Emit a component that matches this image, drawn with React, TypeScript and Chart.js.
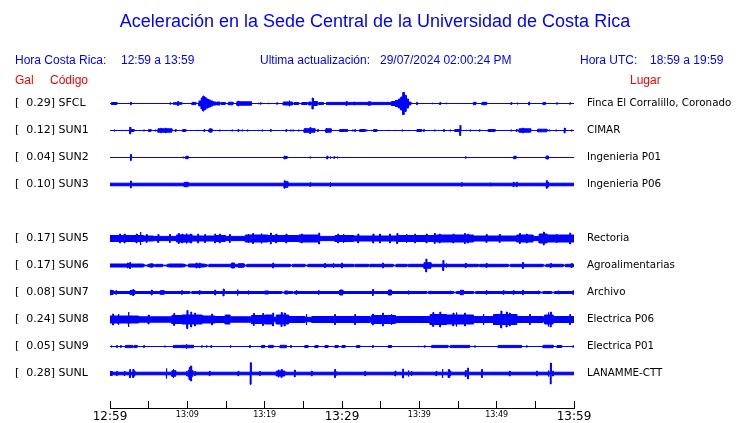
import React, { useEffect, useRef } from 'react';
import { Chart, registerables } from 'chart.js';

Chart.register(...registerables);

// ---------- texts ----------
const TITLE = 'Aceleración en la Sede Central de la Universidad de Costa Rica';
const LOCAL_TIME_LABEL = 'Hora Costa Rica:';
const LOCAL_TIME_RANGE = '12:59 a 13:59';
const UPDATE_LABEL = 'Ultima actualización:';
const UPDATE_TIME = '29/07/2024 02:00:24 PM';
const UTC_LABEL = 'Hora UTC:';
const UTC_RANGE = '18:59 a 19:59';
const HEAD_GAL = 'Gal';
const HEAD_CODE = 'Código';
const HEAD_PLACE = 'Lugar';

// ---------- stations ----------
const CODES = ['SFCL', 'SUN1', 'SUN2', 'SUN3', 'SUN4', 'SUN5', 'SUN6', 'SUN7', 'SUN8', 'SUN9', 'SUNL'];
const GAL = ['0.29', '0.12', '0.04', '0.10', null, '0.17', '0.17', '0.08', '0.24', '0.05', '0.28'];
const PLACES = ['Finca El Corralillo, Coronado', 'CIMAR', 'Ingenieria P01', 'Ingenieria P06', '',
  'Rectoria', 'Agroalimentarias', 'Archivo', 'Electrica P06', 'Electrica P01', 'LANAMME-CTT'];

// time axis (minutes after 12:59)
const MINUTE_TICKS = [0, 5, 10, 15, 20, 25, 30, 35, 40, 45, 50, 55, 60];
const TIME_TICK_LABELS = ['12:59', '', '13:09', '', '13:19', '', '13:29', '', '13:39', '', '13:49', '', '13:59'];
const MAJOR_TIME_TICKS = [0, 30, 60];

// vertical spacing between traces (trace units)
const ROW_GAP = 27;

// base half-thickness of each trace (trace units)
const BASE_AMP = [0.5, 0.5, 0.5, 1.8, null, 2.6, 1.7, 1.5, 2.7, 0.5, 1.8];

// events: [minute, halfAmp] spike or [startMinute, endMinute, halfAmp] burst
const SFCL_EVENTS = [
  [0.2, 0.9, 1.5], [2.7, 1.8], [7.8, 1.2], [8.2, 9.3, 1.3], [8.8, 2.5], [10.6, 11.1, 1.6],
  [11.5, 11.8, 3], [11.8, 12.0, 6], [12.0, 12.15, 8], [12.15, 12.4, 6.5], [12.4, 12.7, 5], [12.7, 13.0, 4],
  [13.0, 13.3, 3], [13.3, 13.7, 2], [13.8, 14.2, 2], [14.4, 14.9, 1.5], [15.3, 15.9, 1.8],
  [16.4, 18.3, 2.2], [16.6, 3], [19.2, 1.2], [19.5, 1.2], [20.5, 1.2], [21.6, 1.2],
  [22.4, 23.6, 2], [23.2, 3.3], [23.8, 24.4, 1.5], [24.8, 25.5, 1.5], [25.7, 26.0, 2], [26.2, 6],
  [26.3, 26.8, 2.5], [27.0, 27.6, 1.5], [28.0, 36.4, 1.6], [30.6, 2.5], [31.6, 2], [33.4, 33.7, 2.2],
  [36.4, 36.9, 2.5], [36.9, 37.3, 3.5], [37.3, 37.6, 5], [37.6, 37.85, 7], [37.85, 38.05, 11.5],
  [38.05, 38.3, 8.5], [38.3, 38.6, 5], [38.6, 38.9, 2],
  [39.7, 1.6], [41.7, 1.2], [42.7, 1.6], [43.5, 1.2], [47.0, 47.3, 1.7], [48.1, 48.7, 1.7],
  [51.9, 1.4], [52.7, 1.4], [54.2, 2], [56.0, 56.3, 1.6], [57.8, 1.2], [59.5, 1.2],
];
const SUN1_EVENTS = [
  [0.6, 1.1], [1.5, 1.1], [2.0, 1.1], [2.6, 3.8], [2.7, 3.1, 1.5], [3.1, 1.1], [4.4, 1.1], [5.0, 5.3, 1.4],
  [5.9, 1.1], [6.2, 8.0, 2.2], [6.6, 2.8], [7.2, 2.8], [8.5, 1.4], [9.4, 9.8, 1.5], [11.3, 1.1], [12.2, 1.4],
  [12.8, 13.2, 2], [13.0, 2.6], [14.2, 1.1], [15.8, 1.1], [16.6, 1.4], [17.1, 1.1], [17.8, 1.1], [19.2, 1.1],
  [19.7, 1.1], [20.8, 1.4], [22.8, 1.4], [23.4, 1.1], [23.7, 1.1], [24.4, 1.1], [25.1, 26.5, 2.3], [25.9, 3.5],
  [26.9, 1.4], [27.9, 28.6, 2.2], [28.0, 3], [29.7, 30.3, 1.5], [30.4, 30.7, 1.5], [31.4, 1.1], [31.7, 1.4],
  [32.3, 33.0, 1.5], [33.2, 1.1], [33.8, 1.1], [34.1, 34.5, 1.5], [36.0, 1.1], [36.8, 1.1], [37.8, 1.1],
  [38.6, 1.1], [39.7, 40.3, 1.5], [40.6, 1.4], [42.0, 1.1], [43.2, 1.4], [44.0, 1.1], [44.6, 45.3, 1.5],
  [45.3, 5.5], [46.1, 1.1], [46.6, 1.1], [47.0, 1.1], [47.4, 1.1], [47.8, 1.2], [48.9, 49.8, 1.5],
  [51.9, 1.1], [52.6, 1.4], [52.9, 54.4, 2.2], [53.4, 3], [55.3, 56.5, 1.8], [56.8, 1.1], [57.7, 1.1],
  [58.8, 3], [59.7, 1.1],
];
const SUN2_EVENTS = [
  [2.7, 3.5], [9.5, 1.3], [9.8, 10.1, 1.7], [22.5, 22.9, 1.5], [22.6, 2], [25.9, 1.1], [28.1, 2], [28.5, 1.5],
  [29.0, 1.3], [29.4, 1.1], [46.0, 1.2], [52.2, 52.5, 1.7], [56.4, 56.7, 2],
];
const SUN3_EVENTS = [
  [2.7, 4], [9.6, 10.1, 2.7], [22.5, 23.0, 3.3], [22.6, 4.2], [25.9, 2.3], [28.5, 3], [45.5, 2.3],
  [49.2, 2.3], [52.2, 2.8], [52.6, 2.8], [56.4, 56.7, 3], [56.5, 4.3],
];
const SUN5_EVENTS = [
  [0, 4.3, 3.5], [4.3, 5.6, 3], [8.6, 10.6, 4], [10.6, 13.6, 3], [13.6, 14.9, 3.5], [17.5, 20.4, 4],
  [20.4, 24.4, 3.5], [24.4, 27.0, 4], [29.1, 31.5, 3.5], [31.5, 37.1, 3], [37.3, 42.2, 3.5], [42.2, 47.0, 4],
  [47.0, 52.6, 3], [52.6, 54.7, 4], [55.5, 56.5, 5], [56.5, 60, 4],
  [1.3, 5], [1.9, 5], [3.45, 5], [3.95, 7], [4.75, 4.5], [6.25, 4.5], [7.75, 4.5], [8.9, 5.5], [9.35, 5],
  [9.9, 5.5], [10.45, 5], [11.4, 5], [12.3, 4.5], [13.6, 5], [14.2, 5], [15.5, 4.5], [17.9, 5], [18.5, 5.5],
  [19.6, 5.5], [20.8, 6], [21.5, 5], [22.8, 5], [24.8, 5], [27.05, 6], [29.5, 5], [30.2, 5], [32.1, 5],
  [34.05, 5], [34.9, 5], [36.2, 5], [37.15, 5.5], [38.35, 5], [39.45, 5], [40.95, 5], [42.0, 5.5],
  [42.65, 5], [44.4, 5], [45.9, 5.5], [46.3, 5], [48.7, 4.5], [50.4, 4.5], [53.0, 5.5], [53.9, 5],
  [56.1, 7], [57.75, 5], [59.5, 6],
];
const SUN6_EVENTS = [
  [0, 4.3, 2], [2.3, 3], [2.6, 3.5], [5.2, 5.5, 2.2], [7.6, 9.5, 2], [10.2, 12.2, 2], [11.2, 3], [11.6, 3],
  [15.7, 16.1, 3], [16.6, 17.3, 2.3], [21.1, 3], [27.8, 2.5], [28.9, 3], [30.0, 3], [35.3, 3],
  [40.6, 41.5, 3.3], [40.9, 7], [43.1, 5.5], [43.5, 2.5], [46.0, 2.7], [48.7, 2.5], [53.4, 3.5],
  [57.0, 2.5], [59.7, 2.5],
];
const SUN6_GAPS = [
  [4.4, 4.9], [5.7, 5.9], [6.8, 7.4], [9.7, 10.1], [12.5, 12.8], [17.4, 17.7], [23.3, 23.6], [25.2, 25.6],
  [31.5, 31.7], [33.4, 33.6], [36.6, 37.0], [38.4, 38.6], [47.6, 47.8], [51.5, 51.8], [56.0, 56.4], [58.6, 58.9],
];
const SUN7_EVENTS = [
  [0, 0.4, 2.5], [0.1, 3], [0.8, 2.3], [2.6, 3.2, 2.5], [3.0, 3.5], [5.4, 3], [6.5, 7.0, 2.3], [9.3, 2.3],
  [11.6, 2.3], [13.6, 3], [14.7, 4], [16.5, 3.5], [17.9, 2.5], [20.0, 20.5, 2], [22.6, 23.0, 2], [24.1, 2.3],
  [27.0, 2.3], [29.7, 30.1, 3], [34.0, 3.5], [36.0, 36.4, 3], [38.6, 2.5], [41.5, 2], [44.0, 2],
  [45.3, 45.7, 2.7], [48.7, 2.3], [50.9, 2.3], [52.2, 2.3], [53.4, 2.7], [55.4, 2.3], [58.0, 2.3], [59.9, 2.3],
];
const SUN7_GAPS = [
  [10.3, 10.6], [22.2, 22.6], [23.6, 23.8], [40.95, 41.2], [44.4, 44.8], [47.0, 47.3], [55.6, 56.0], [57.1, 57.5],
];
const SUN8_EVENTS = [
  [0, 3.7, 4], [0.4, 6], [1.1, 6], [2.4, 8], [3.7, 8.0, 3.2], [5.0, 5], [8.0, 9.3, 4.5], [8.3, 6.5],
  [9.3, 11.9, 5], [10.0, 9.5], [10.5, 8], [11.0, 7], [11.9, 13.6, 4], [13.2, 6], [13.6, 15.3, 3.5],
  [14.9, 15.5, 5], [15.5, 18.3, 3.2], [18.3, 20.0, 4.5], [18.6, 6.5], [19.8, 6.5], [20.0, 21.1, 5], [21.1, 7],
  [21.5, 23.1, 5], [22.2, 7.5], [22.6, 7], [23.1, 25.2, 3.5], [25.4, 6], [26.1, 29.5, 3.5], [29.1, 5.5],
  [29.5, 33.6, 3.5], [31.7, 5.5], [33.8, 36.9, 4.5], [34.0, 6], [35.3, 7], [36.4, 6], [36.9, 41.4, 3.5],
  [41.4, 43.5, 5.5], [41.8, 7.5], [42.7, 8], [43.5, 47.0, 5], [44.4, 7], [44.8, 7.5], [45.9, 7],
  [47.0, 49.6, 3.5], [48.3, 6], [49.6, 52.6, 5.5], [50.6, 9], [51.3, 8], [51.7, 7], [52.6, 56.0, 3.5],
  [54.3, 5.5], [56.2, 57.3, 5], [56.7, 7.5], [57.0, 8], [57.3, 60, 3.5], [59.5, 5.5],
];
const SUN9_EVENTS = [
  [0.2, 1.4], [0.9, 1.4], [1.4, 1.4], [2.0, 2.9, 1.6], [3.1, 3.5, 1.6], [4.4, 1.4], [7.1, 1.1],
  [8.2, 9.1, 1.6], [9.2, 10.8, 1.7], [9.9, 2.7], [11.9, 1.2], [12.5, 1.2], [13.1, 1.4], [15.6, 1.2],
  [18.1, 1.4], [19.6, 20.0, 1.6], [20.5, 21.1, 1.6], [22.0, 22.8, 1.7], [23.4, 1.4], [25.2, 25.6, 1.5],
  [26.5, 26.9, 1.5], [27.8, 28.2, 1.5], [29.1, 29.5, 1.5], [30.0, 30.4, 1.5], [31.9, 32.3, 1.5],
  [34.0, 1.4], [36.0, 36.4, 1.5], [39.9, 1.2], [40.7, 1.2], [41.6, 43.7, 1.6], [44.0, 46.5, 1.6],
  [47.2, 1.2], [50.2, 53.2, 1.6], [53.9, 1.2], [56.0, 57.3, 1.7], [57.8, 58.4, 1.5], [59.9, 1.2],
];
const SUNL_EVENTS = [
  [0, 0.3, 2.5], [0.9, 2.5], [1.9, 2.5], [2.6, 4.5], [3.0, 4.5], [3.15, 3], [7.3, 5.5], [8.0, 8.5, 3.3],
  [8.2, 5], [9.9, 3], [10.1, 10.7, 3.5], [10.3, 6.5], [10.5, 8], [11.0, 2.5], [12.9, 2.7], [16.6, 2.7],
  [18.2, 11.3], [19.4, 2.5], [21.5, 22.6, 3], [21.8, 4.3], [22.2, 4.5], [23.9, 4], [26.1, 3], [29.1, 4.5],
  [29.3, 2.5], [33.0, 2.7], [36.9, 3], [37.9, 5], [38.6, 3.5], [39.0, 3], [42.2, 2.7], [43.0, 5],
  [43.8, 4.5], [44.0, 3], [46.0, 3.5], [46.3, 6], [48.1, 4.5], [51.7, 3], [55.2, 3], [56.7, 3.5],
  [57.0, 11], [57.3, 3],
];

const EVENTS = [SFCL_EVENTS, SUN1_EVENTS, SUN2_EVENTS, SUN3_EVENTS, null, SUN5_EVENTS, SUN6_EVENTS,
  SUN7_EVENTS, SUN8_EVENTS, SUN9_EVENTS, SUNL_EVENTS];
const GAPS = [[], [], [], [], [], [], SUN6_GAPS, SUN7_GAPS, [], [], []];

// ---------- style ----------
const TRACE_COLOR = '#0000ff';
const HEAD_BLUE = '#0000ff';
const HEAD_RED = '#ff0000';
const SANS = '"Liberation Sans", Arial, sans-serif';
const DEJAVU = '"DejaVu Sans", sans-serif';
const SPIKE_HALF = 0.05;
const GAP_AMP = 0.8;
const HALF_STROKE = 0.5;

function buildEnvelope(base: number, events: number[][], gaps: number[][]) {
  const segs = events.map((e) => (e.length === 2 ? [e[0] - SPIKE_HALF, e[0] + SPIKE_HALF, e[1]] : e));
  const cut = new Set<number>([0, 60]);
  const clamp = (t: number) => Math.min(60, Math.max(0, t));
  segs.forEach((s) => { cut.add(clamp(s[0])); cut.add(clamp(s[1])); });
  gaps.forEach((g) => { cut.add(clamp(g[0])); cut.add(clamp(g[1])); });
  const ts = Array.from(cut).sort((a, b) => a - b);
  const runs: { a: number; b: number; amp: number }[] = [];
  for (let i = 0; i < ts.length - 1; i++) {
    const a = ts[i], b = ts[i + 1];
    if (b - a < 1e-9) continue;
    const m = (a + b) / 2;
    let amp = gaps.some((g) => m > g[0] && m < g[1]) ? Math.min(GAP_AMP, base) : base;
    segs.forEach((s) => { if (m > s[0] && m < s[1]) amp = Math.max(amp, s[2]); });
    const last = runs[runs.length - 1];
    if (last && last.amp === amp) last.b = b;
    else runs.push({ a, b, amp });
  }
  const pts: { x: number; amp: number }[] = [];
  runs.forEach((r) => { pts.push({ x: r.a, amp: r.amp }); pts.push({ x: r.b, amp: r.amp }); });
  return pts;
}

function buildDatasets() {
  const ds: any[] = [];
  CODES.forEach((code, i) => {
    const ev = EVENTS[i];
    const base = BASE_AMP[i];
    if (!ev || base == null) return;
    const center = i * ROW_GAP;
    const env = buildEnvelope(base, ev, GAPS[i]);
    const off = (a: number) => Math.max(0, a - HALF_STROKE);
    const common = {
      type: 'line', borderColor: TRACE_COLOR, backgroundColor: TRACE_COLOR, borderWidth: 1,
      pointRadius: 0, tension: 0, yAxisID: 'y',
    };
    ds.push({ ...common, label: code + ' +', data: env.map((p) => ({ x: p.x, y: center - off(p.amp) })), fill: '+1' });
    ds.push({ ...common, label: code + ' -', data: env.map((p) => ({ x: p.x, y: center + off(p.amp) })), fill: false });
  });
  return ds;
}

const ROW_VALUES = CODES.map((_, i) => i * ROW_GAP);
const leftLabel = (v: number) => {
  const i = Math.round(v / ROW_GAP);
  return GAL[i] == null ? '' : `[  ${GAL[i]}] ${CODES[i]}`;
};
const rightLabel = (v: number) => {
  const i = Math.round(v / ROW_GAP);
  return GAL[i] == null ? '' : PLACES[i];
};

const headerPlugin = {
  id: 'header',
  afterDraw(chart: any) {
    const ctx = chart.ctx;
    ctx.save();
    ctx.textBaseline = 'middle';
    ctx.fillStyle = HEAD_BLUE;
    ctx.font = `18px ${SANS}`;
    ctx.textAlign = 'center';
    ctx.fillText(TITLE, 375, 22);
    ctx.textAlign = 'left';
    ctx.font = `12px ${SANS}`;
    ctx.fillText(LOCAL_TIME_LABEL, 15, 60.5);
    ctx.fillText(LOCAL_TIME_RANGE, 121, 60.5);
    ctx.fillText(UPDATE_LABEL, 260, 60.5);
    ctx.fillText(UPDATE_TIME, 380, 60.5);
    ctx.fillText(UTC_LABEL, 580, 60.5);
    ctx.fillText(UTC_RANGE, 650, 60.5);
    ctx.fillStyle = HEAD_RED;
    ctx.fillText(HEAD_GAL, 15, 80.5);
    ctx.fillText(HEAD_CODE, 50, 80.5);
    ctx.fillText(HEAD_PLACE, 630, 80.5);
    // time axis line
    const xs = chart.scales.x;
    ctx.strokeStyle = '#000';
    ctx.lineWidth = 1;
    ctx.beginPath();
    const y = Math.round(xs.top + 8) - 0.5;
    ctx.moveTo(xs.left, y);
    ctx.lineTo(xs.right + 1, y);
    ctx.stroke();
    ctx.restore();
  },
};

export default function App() {
  const ref = useRef<HTMLCanvasElement | null>(null);
  useEffect(() => {
    if (!ref.current) return;
    const chart = new Chart(ref.current, {
      type: 'line',
      data: { datasets: buildDatasets() },
      options: {
        animation: false,
        responsive: false,
        devicePixelRatio: 1,
        layout: { padding: { top: 89, left: 15, right: 0, bottom: 0 } },
        plugins: { legend: { display: false }, tooltip: { enabled: false }, title: { display: false } },
        scales: {
          x: {
            type: 'linear', position: 'bottom', min: 0, max: 60,
            afterBuildTicks: (s: any) => { s.ticks = MINUTE_TICKS.map((v) => ({ value: v })); },
            afterFit: (s: any) => { s.height = 22; },
            grid: { display: true, drawOnChartArea: false, drawTicks: true, tickLength: 8, color: '#000', lineWidth: 1 },
            border: { display: false },
            ticks: {
              autoSkip: false, maxRotation: 0, minRotation: 0, padding: 1, color: '#000',
              font: (c: any) => ({ family: DEJAVU, size: c.tick && MAJOR_TIME_TICKS.includes(c.tick.value) ? 12 : 8 }),
              callback: (v: any) => TIME_TICK_LABELS[MINUTE_TICKS.indexOf(Number(v))] ?? '',
            },
          },
          y: {
            type: 'linear', position: 'left', reverse: true, min: -14.5, max: 297.5,
            afterBuildTicks: (s: any) => { s.ticks = ROW_VALUES.map((v) => ({ value: v })); },
            afterFit: (s: any) => { s.width = 95; },
            grid: { display: false }, border: { display: false },
            ticks: { crossAlign: 'far', padding: 0, color: '#000', font: { family: DEJAVU, size: 11 },
              callback: (v: any) => leftLabel(Number(v)) },
          },
          y2: {
            type: 'linear', position: 'right', reverse: true, min: -14.5, max: 297.5,
            afterBuildTicks: (s: any) => { s.ticks = ROW_VALUES.map((v) => ({ value: v })); },
            afterFit: (s: any) => { s.width = 166; },
            grid: { display: false }, border: { display: false },
            ticks: { padding: 5, color: '#000', font: { family: DEJAVU, size: 10.3 },
              callback: (v: any) => rightLabel(Number(v)) },
          },
        },
      } as any,
      plugins: [headerPlugin],
    });
    return () => chart.destroy();
  }, []);
  return (
    <div style={{ position: 'absolute', left: 0, top: 0, width: 740, height: 423, background: '#fff' }}>
      <canvas ref={ref} width={740} height={423} style={{ display: 'block' }} />
    </div>
  );
}
